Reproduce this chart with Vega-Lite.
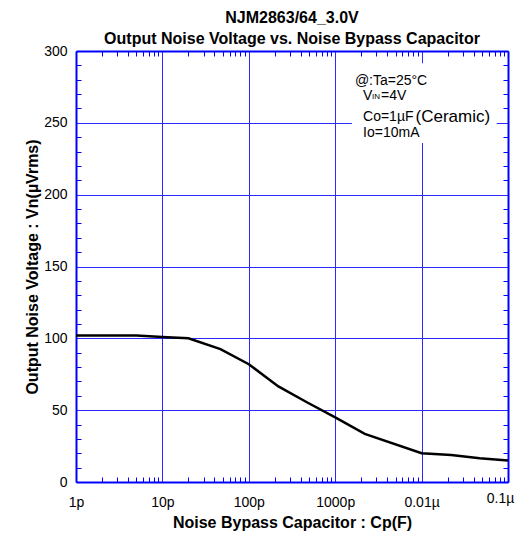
{
  "$schema": "https://vega.github.io/schema/vega-lite/v6.json",
  "autosize": "none",
  "width": 432,
  "height": 431,
  "padding": {"left": 76, "top": 51, "right": 15, "bottom": 56},
  "background": "white",
  "config": {
    "font": "Liberation Sans",
    "view": {"stroke": null},
    "axis": {"labelFont": "Liberation Sans", "titleFont": "Liberation Sans", "labelColor": "black", "titleColor": "black"}
  },
  "title": {
    "text": ["NJM2863/64_3.0V", "Output Noise Voltage vs. Noise Bypass Capacitor"],
    "font": "Liberation Sans",
    "fontSize": 16,
    "fontWeight": "bold",
    "lineHeight": 21,
    "anchor": "middle",
    "offset": -3,
    "color": "black"
  },
  "datasets": {
    "curve": [
      {"cp": 1e-12, "vn": 102},
      {"cp": 5e-12, "vn": 102},
      {"cp": 1e-11, "vn": 101},
      {"cp": 2e-11, "vn": 100},
      {"cp": 4.7e-11, "vn": 92.5},
      {"cp": 1e-10, "vn": 82},
      {"cp": 2.2e-10, "vn": 66.5},
      {"cp": 4.7e-10, "vn": 55.5},
      {"cp": 1e-9, "vn": 45},
      {"cp": 2.2e-9, "vn": 33.5},
      {"cp": 1e-8, "vn": 20},
      {"cp": 2.2e-8, "vn": 18.8},
      {"cp": 4.7e-8, "vn": 16.5},
      {"cp": 1e-7, "vn": 15}
    ],
    "box": [
      {"x1": 1.56e-9, "x2": 7.4e-8, "y1": 236, "y2": 291.5}
    ],
    "notes": [
      {"t": "@:Ta=25°C", "cx": 1.69e-9, "v": 279.3, "k": "main"},
      {"t": "V", "cx": 2.1e-9, "v": 268.7, "k": "main"},
      {"t": "IN", "cx": 2.67e-9, "v": 268, "k": "sub"},
      {"t": "=4V", "cx": 3.39e-9, "v": 268.7, "k": "main"},
      {"t": "Co=1µF", "cx": 2.1e-9, "v": 253.8, "k": "main"},
      {"t": "(Ceramic)", "cx": 8.5e-9, "v": 254.3, "k": "big"},
      {"t": "Io=10mA", "cx": 2.1e-9, "v": 243.1, "k": "main"}
    ]
  },
  "layer": [
    {
      "data": {"name": "curve"},
      "mark": {"type": "line", "color": "black", "strokeWidth": 2.5},
      "encoding": {
        "x": {
          "field": "cp", "type": "quantitative",
          "scale": {"type": "log", "domain": [1e-12, 1e-7], "nice": false},
          "axis": {
            "orient": "bottom",
            "values": [1e-12,2e-12,3e-12,4e-12,5e-12,6e-12,7e-12,8e-12,9e-12,1e-11,2e-11,3e-11,4e-11,5e-11,6e-11,7e-11,8e-11,9e-11,1e-10,2e-10,3e-10,4e-10,5e-10,6e-10,7e-10,8e-10,9e-10,1e-9,2e-9,3e-9,4e-9,5e-9,6e-9,7e-9,8e-9,9e-9,1e-8,2e-8,3e-8,4e-8,5e-8,6e-8,7e-8,8e-8,9e-8,1e-7],
            "labelExpr": "abs(log(datum.value)/LN10 - round(log(datum.value)/LN10)) < 0.01 ? ['1p','10p','100p','1000p','0.01µ','0.1µ'][round(log(datum.value)/LN10)+12] : ''",
            "labelFontSize": 14,
            "labelPadding": {"condition": {"test": "datum.value > 5e-8", "value": 14}, "value": 18},
            "labelOffset": {"condition": {"test": "datum.value > 5e-8", "value": -8}, "value": 0},
            "labelOverlap": false,
            "labelFlush": false,
            "tickSize": -5,
            "tickColor": "#0000ff",
            "tickWidth": 1,
            "tickOpacity": {"condition": {"test": "abs(log(datum.value)/LN10 - round(log(datum.value)/LN10)) < 0.01", "value": 0}, "value": 1},
            "grid": true,
            "gridColor": "#2a2aff",
            "gridWidth": 1,
            "gridOpacity": {"condition": {"test": "abs(log(datum.value)/LN10 - round(log(datum.value)/LN10)) < 0.01", "value": 1}, "value": 0},
            "domainColor": "#0000ff",
            "domainWidth": 2,
            "title": "Noise Bypass Capacitor : Cp(F)",
            "titleFontSize": 16,
            "titleFontWeight": "bold",
            "titlePadding": 5
          }
        },
        "y": {
          "field": "vn", "type": "quantitative",
          "scale": {"domain": [0, 300], "nice": false},
          "axis": {
            "orient": "left",
            "values": [0,10,20,30,40,50,60,70,80,90,100,110,120,130,140,150,160,170,180,190,200,210,220,230,240,250,260,270,280,290,300],
            "labelExpr": "datum.value % 50 == 0 ? datum.label : ''",
            "labelFontSize": 14,
            "labelPadding": 14,
            "tickSize": -5,
            "tickColor": "#0000ff",
            "tickOpacity": {"condition": {"test": "datum.value % 50 == 0", "value": 0}, "value": 1},
            "grid": true,
            "gridColor": "#2a2aff",
            "gridWidth": 1,
            "gridOpacity": {"condition": {"test": "datum.value % 50 == 0", "value": 1}, "value": 0},
            "domainColor": "#0000ff",
            "domainWidth": 2,
            "title": "Output Noise Voltage : Vn(µVrms)",
            "titleFontSize": 16,
            "titleFontWeight": "bold",
            "titlePadding": 3
          }
        }
      }
    },
    {
      "data": {"name": "box"},
      "mark": {"type": "rect", "color": "white"},
      "encoding": {
        "x": {"field": "x1", "type": "quantitative", "axis": null},
        "x2": {"field": "x2"},
        "y": {"field": "y1", "type": "quantitative", "axis": null},
        "y2": {"field": "y2"}
      }
    },
    {
      "data": {"name": "notes"},
      "transform": [{"filter": "datum.k == 'main'"}],
      "mark": {"type": "text", "align": "left", "baseline": "middle", "fontSize": 14, "font": "Liberation Sans", "color": "black"},
      "encoding": {
        "x": {"field": "cx", "type": "quantitative", "axis": null},
        "y": {"field": "v", "type": "quantitative", "axis": null},
        "text": {"field": "t"}
      }
    },
    {
      "data": {"name": "notes"},
      "transform": [{"filter": "datum.k == 'big'"}],
      "mark": {"type": "text", "align": "left", "baseline": "middle", "fontSize": 17, "font": "Liberation Sans", "color": "black"},
      "encoding": {
        "x": {"field": "cx", "type": "quantitative", "axis": null},
        "y": {"field": "v", "type": "quantitative", "axis": null},
        "text": {"field": "t"}
      }
    },
    {
      "data": {"name": "notes"},
      "transform": [{"filter": "datum.k == 'sub'"}],
      "mark": {"type": "text", "align": "left", "baseline": "middle", "fontSize": 8, "font": "Liberation Sans", "color": "black"},
      "encoding": {
        "x": {"field": "cx", "type": "quantitative", "axis": null},
        "y": {"field": "v", "type": "quantitative", "axis": null},
        "text": {"field": "t"}
      }
    },
    {
      "data": {"name": "curve"},
      "mark": {"type": "line", "opacity": 0},
      "encoding": {
        "x": {
          "field": "cp", "type": "quantitative",
          "axis": {
            "orient": "top",
            "values": [1e-12,2e-12,3e-12,4e-12,5e-12,6e-12,7e-12,8e-12,9e-12,1e-11,2e-11,3e-11,4e-11,5e-11,6e-11,7e-11,8e-11,9e-11,1e-10,2e-10,3e-10,4e-10,5e-10,6e-10,7e-10,8e-10,9e-10,1e-9,2e-9,3e-9,4e-9,5e-9,6e-9,7e-9,8e-9,9e-9,1e-8,2e-8,3e-8,4e-8,5e-8,6e-8,7e-8,8e-8,9e-8,1e-7],
            "labels": false,
            "grid": false,
            "title": null,
            "tickSize": -5,
            "tickColor": "#0000ff",
            "tickOpacity": {"condition": {"test": "abs(log(datum.value)/LN10 - round(log(datum.value)/LN10)) < 0.01", "value": 0}, "value": 1},
            "domainColor": "#0000ff",
            "domainWidth": 2
          }
        },
        "y": {
          "field": "vn", "type": "quantitative",
          "axis": {
            "orient": "right",
            "values": [0,10,20,30,40,50,60,70,80,90,100,110,120,130,140,150,160,170,180,190,200,210,220,230,240,250,260,270,280,290,300],
            "labels": false,
            "grid": false,
            "title": null,
            "tickSize": -5,
            "tickColor": "#0000ff",
            "tickOpacity": {"condition": {"test": "datum.value % 50 == 0", "value": 0}, "value": 1},
            "domainColor": "#0000ff",
            "domainWidth": 2
          }
        }
      }
    }
  ],
  "resolve": {"axis": {"x": "independent", "y": "independent"}}
}
